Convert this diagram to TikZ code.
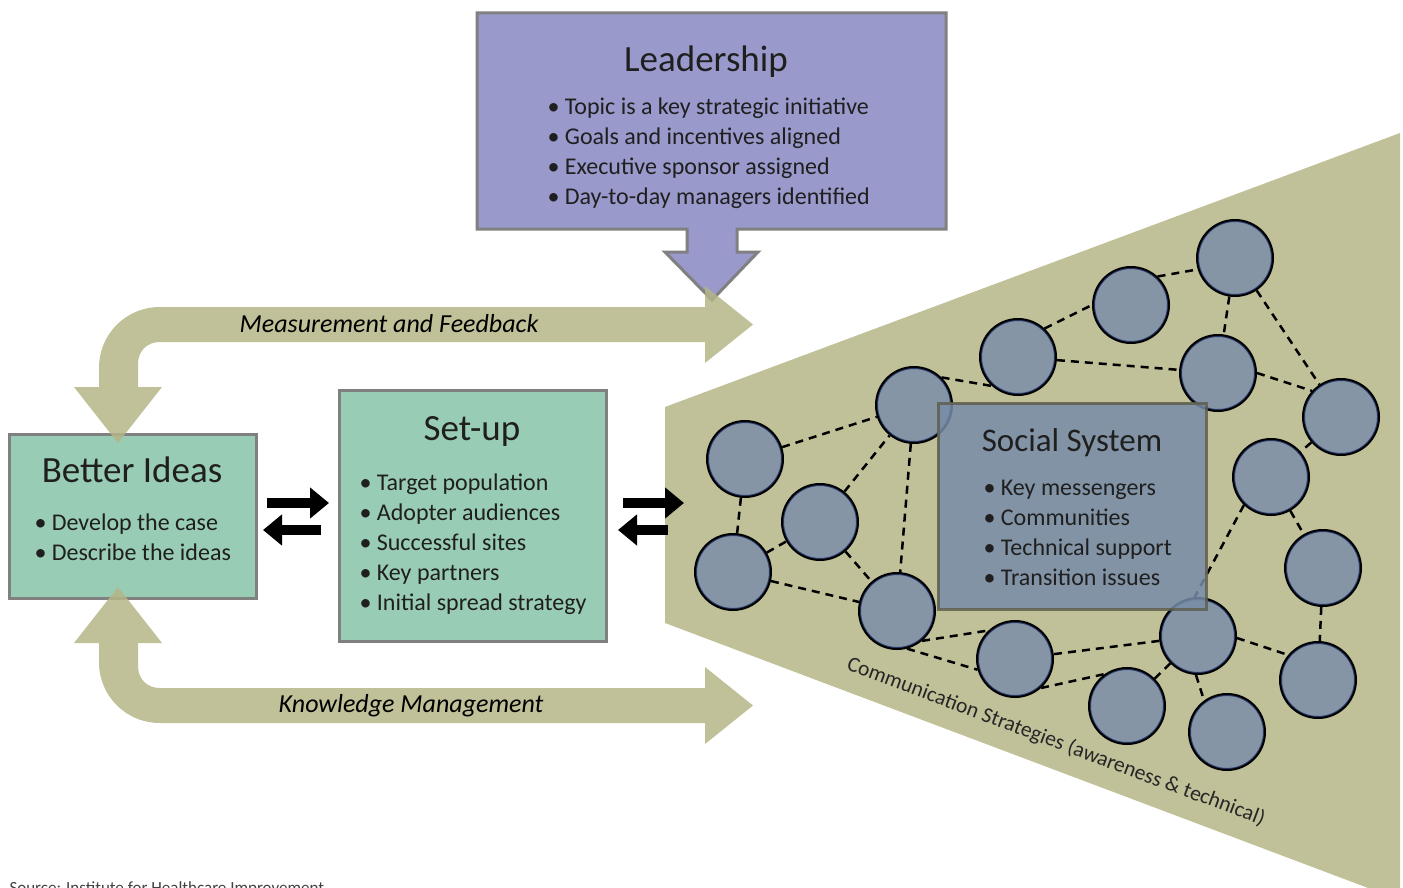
\documentclass[tikz,border=0pt]{standalone}
\usepackage{fontspec}
\setmainfont{Carlito}
\usetikzlibrary{positioning, calc}
\usetikzlibrary{arrows.meta}

\begin{document}
\begin{tikzpicture}[x=1pt, y=-1pt, line width=3pt, >={Triangle[length=19pt, width=30pt]},
    title/.style={anchor=base, text=black!88, font=\fontsize{37}{40}\selectfont, inner sep=0pt},
    itemlist/.style={anchor=north west, align=left, text=black!88, font=\fontsize{24}{30}\selectfont, inner sep=0pt},
    greenbox/.style={draw=boxgray, fill=boxgreen, rectangle, inner sep=0pt},
    flowlabel/.style={text=black, font=\fontsize{26}{28}\selectfont\itshape, inner sep=0pt},
    member/.style={circle, draw=black, line width=2pt, fill=membergray, minimum size=76pt, inner sep=0pt,
        path picture={\draw[ringblue, line width=4pt] (path picture bounding box.center) circle (38pt);}},
    tie/.style={draw=black, line width=2.5pt, dash pattern=on 8pt off 6pt}]
        % Define colors
        \definecolor{leadblue}{RGB}{153,153,204}
        \definecolor{boxgreen}{RGB}{153,204,180}
        \definecolor{boxgray}{RGB}{128,128,128}
        \definecolor{olive}{RGB}{192,192,153}
        \definecolor{olivearrow}{RGB}{181,181,135}
        \definecolor{membergray}{RGB}{133,149,166}
        \definecolor{ringblue}{RGB}{45,62,112}
        \definecolor{socialfill}{RGB}{119,140,168}
        \definecolor{socialedge}{RGB}{95,95,78}

        \clip (0,0) rectangle (1403,888);

        % Social system fan
        \fill[olive] (665,407) -- (1400,133) -- (1400,900) -- (665,623) -- cycle;

        % Leadership box with its arrow
        \draw[boxgray, fill=leadblue, line join=miter] (477,13) -- (946,13) -- (946,229) -- (737,229) -- (737,252) -- (758,252)
            -- (712,300) -- (665,252) -- (687,252) -- (687,229) -- (477,229) -- cycle;
        \node[title] (leadtitle) at (706,72) {Leadership};
        \node[itemlist] (leadlist) at (546,96) {\textbullet\ Topic is a key strategic initiative\\ \textbullet\ Goals and incentives aligned\\
            \textbullet\ Executive sponsor assigned\\ \textbullet\ Day-to-day managers identified};

        % Better ideas and set-up
        \node[greenbox, minimum width=247pt, minimum height=164pt] (better) at (132.5,516) {};
        \node[title] (bettertitle) at (132,482) {Better Ideas};
        \node[itemlist] (betterlist) at (33,512) {\textbullet\ Develop the case\\ \textbullet\ Describe the ideas};

        \node[greenbox, minimum width=267pt, minimum height=251pt] (setup) at (472.5,515.5) {};
        \node[title] (setuptitle) at (472,440) {Set-up};
        \node[itemlist] (setuplist) at (358,472) {\textbullet\ Target population\\ \textbullet\ Adopter audiences\\
            \textbullet\ Successful sites\\ \textbullet\ Key partners\\ \textbullet\ Initial spread strategy};

        % Feedback loops
        \fill[olivearrow, fill opacity=0.85] (705,307) -- (705,286) -- (753,324.5) -- (705,363) -- (705,342) -- (160,342)
            .. controls (147,342) and (138,351) .. (138,364) -- (138,387) -- (162,387) -- (118,443) -- (74,387) -- (99,387)
            -- (99,368) .. controls (99,334) and (126,307) .. (160,307) -- cycle;
        \fill[olivearrow, fill opacity=0.85] (705,723) -- (705,744) -- (753,705.5) -- (705,667) -- (705,688) -- (160,688)
            .. controls (147,688) and (138,679) .. (138,666) -- (138,643) -- (162,643) -- (118,587) -- (74,643) -- (99,643)
            -- (99,662) .. controls (99,696) and (126,723) .. (160,723) -- cycle;
        \node[flowlabel] (measure) at (389,324) {Measurement and Feedback};
        \node[flowlabel] (knowledge) at (411,706) {Knowledge Management};

        % Two-way arrows
        \coordinate (la) at (267,503); \coordinate (lb) at (329,503);
        \coordinate (lc) at (321,530); \coordinate (ld) at (263,530);
        \coordinate (ra) at (623,503); \coordinate (rb) at (684,503);
        \coordinate (rc) at (668,530); \coordinate (rd) at (618,530);
        \draw[->, line width=10pt] (la) -- (lb);
        \draw[->, line width=10pt] (lc) -- (ld);
        \draw[->, line width=10pt] (ra) -- (rb);
        \draw[->, line width=10pt] (rc) -- (rd);

        % Members of the social system
        \foreach \n/\x/\y in {1/745/459, 2/733/572, 3/820/522, 4/914/405, 5/897/611, 6/1018/357, 7/1131/305,
            8/1235/258, 9/1218/373, 10/1341/417, 11/1271/477, 12/1323/568, 13/1198/636, 14/1318/680,
            15/1015/659, 16/1127/706, 17/1227/732} {
            \node[member] (c\n) at (\x,\y) {};
        }

        % Ties
        \foreach \a/\b in {1/2, 1/4, 2/3, 2/5, 3/4, 3/5, 4/5, 6/9, 8/9, 8/10, 10/11, 11/12, 12/14, 13/15, 16/13} {
            \draw[tie] (c\a) -- (c\b);
        }
        \draw[tie] (c4.45) -- (c6.228);
        \draw[tie] (c6.47) -- (c7.180);
        \draw[tie] (c7.47) -- (c8.197);
        \draw[tie] (c9.0) -- (c10.138);
        \draw[tie] (c11.226) -- (c13.95);
        \draw[tie] (c13.-3) -- (c14.140);
        \draw[tie] (c13.-93) -- (c17.126);
        \draw[tie] (c5.-50) -- (c15.133);
        \draw[tie] (c5.-75) -- (c15.196);
        \draw[tie] (c15.-48) -- (c16.125);

        % Social system box
        \node[draw=socialedge, fill=socialfill, opacity=0.85, minimum width=268pt, minimum height=206pt, inner sep=0pt] (social) at (1072,506) {};
        \node[title, font=\fontsize{33}{36}\selectfont] (socialtitle) at (1072,451) {Social System};
        \node[itemlist] (sociallist) at (982,479) {\textbullet\ Key messengers\\ \textbullet\ Communities\\
            \textbullet\ Technical support\\ \textbullet\ Transition issues};

        \node[rotate=-20.5, text=black!85, font=\fontsize{21.6}{24}\selectfont, inner sep=0pt] (comm) at (1056,742)
            {Communication Strategies (awareness \& technical)};

        \node[anchor=base west, text=black!75, font=\fontsize{17}{20}\selectfont, inner sep=0pt] (source) at (8,893)
            {Source: Institute for Healthcare Improvement};
    \end{tikzpicture}
\end{document}
